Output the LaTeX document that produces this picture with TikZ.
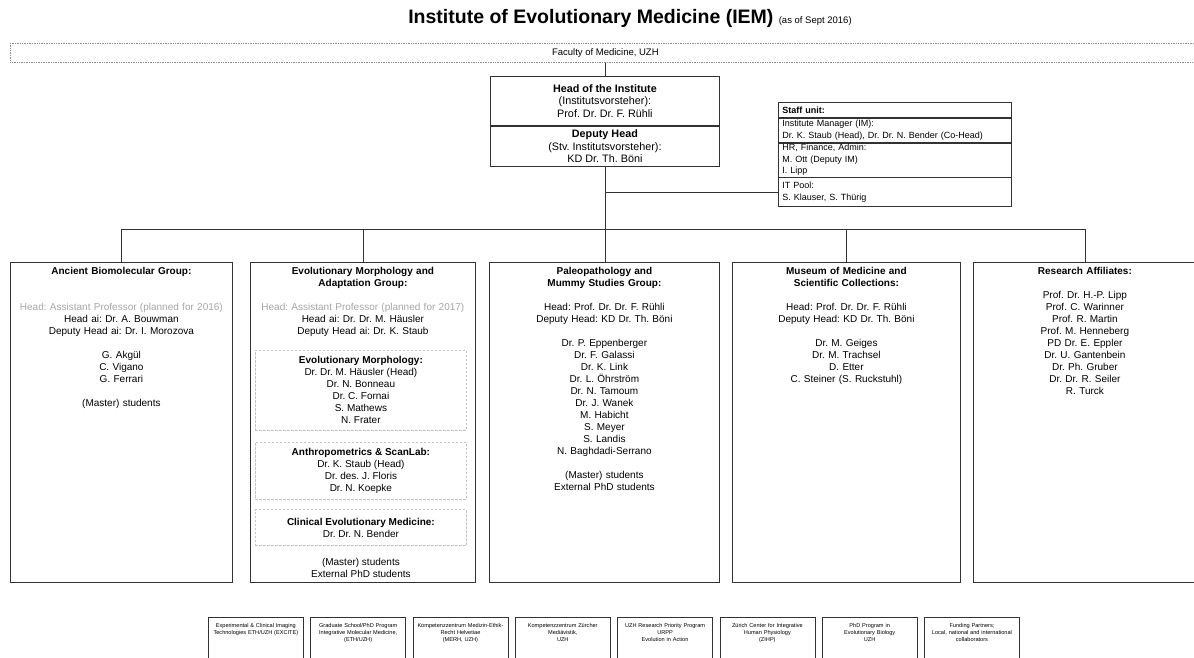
\documentclass[tikz,border=0pt]{standalone}
\usepackage{fontspec}
\setmainfont{Liberation Sans}
\usetikzlibrary{positioning}
\definecolor{boxline}{RGB}{50,50,50}
\definecolor{plangray}{RGB}{165,165,165}
\definecolor{subline}{RGB}{195,195,195}
\frenchspacing

\begin{document}
\begin{tikzpicture}[x=1pt, y=-1pt,
    line/.style={draw=boxline, line width=0.8pt},
    groupbox/.style={draw=boxline, line width=0.8pt, anchor=north west, align=center,
        text width=#1, text height=8pt, text depth=304pt, inner xsep=2pt, inner ysep=4pt,
        font=\fontsize{10}{12}\selectfont},
    subbox/.style={draw=subline, line width=0.7pt, dash pattern=on 2.5pt off 1.5pt, align=center,
        minimum width=211pt, inner sep=0pt, font=\fontsize{10}{12}\selectfont},
    headbox/.style={draw=boxline, line width=0.8pt, align=center, minimum width=229pt,
        inner sep=0pt, font=\fontsize{10.8}{12.6}\selectfont},
    staffbox/.style={draw=boxline, line width=0.8pt, align=left, text width=225pt,
        inner xsep=4pt, inner ysep=0pt, font=\fontsize{9}{11.5}\selectfont},
    partner/.style={draw=boxline, line width=0.7pt, anchor=north west, align=center,
        text width=91pt, text height=5.5pt, text depth=44pt, inner xsep=2pt, inner ysep=4.5pt,
        font=\fontsize{5.6}{7}\selectfont}
]
    \useasboundingbox (0,0) rectangle (1194,657);

    % Title
    \node[font=\fontsize{19.5}{22}\selectfont\bfseries] (title) at (630,18)
        {Institute of Evolutionary Medicine (IEM) {\fontsize{9.5}{10}\selectfont\mdseries(as of Sept 2016)}};

    % Faculty (dotted frame running off the right edge)
    \node[draw=black!45, densely dotted, line width=0.7pt, anchor=north west, minimum width=1190pt,
          minimum height=19pt, inner sep=0pt, font=\fontsize{9.5}{10}\selectfont] (faculty) at (10,43)
        {Faculty of Medicine, UZH};

    % Head and deputy head
    \node[headbox, minimum height=49pt, anchor=north west] (head) at (490,76)
        {\textbf{Head of the Institute}\\(Institutsvorsteher):\\Prof. Dr. Dr. F. Rühli};
    \node[headbox, minimum height=40pt, below=0pt of head] (deputy)
        {\textbf{Deputy Head}\\(Stv. Institutsvorsteher):\\KD Dr. Th. Böni};

    % Staff unit, one row per node
    \node[staffbox, minimum height=15pt, anchor=north west] (staff) at (778,102) {\textbf{Staff unit:}};
    \node[staffbox, minimum height=24pt, below=0pt of staff] (staffim)
        {Institute Manager (IM):\\Dr. K. Staub (Head), Dr. Dr. N. Bender (Co-Head)};
    \node[staffbox, minimum height=34pt, below=0pt of staffim] (staffhr)
        {HR, Finance, Admin:\\M. Ott (Deputy IM)\\I. Lipp};
    \node[staffbox, minimum height=29pt, below=0pt of staffhr] (staffit)
        {IT Pool:\\S. Klauser, S. Thürig};

    % Groups
    \node[groupbox=218pt] (grp1) at (10,262)
        {\textbf{Ancient Biomolecular Group:}\\[24pt]
         {\color{plangray}Head: Assistant Professor (planned for 2016)}\\
         Head ai: Dr. A. Bouwman\\Deputy Head ai: Dr. I. Morozova\\[12pt]
         G. Akgül\\C. Vigano\\G. Ferrari\\[12pt]
         (Master) students};

    \node[groupbox=221pt] (grp2) at (250,262)
        {\textbf{Evolutionary Morphology and}\\\textbf{Adaptation Group:}\\[12pt]
         {\color{plangray}Head: Assistant Professor (planned for 2017)}\\
         Head ai: Dr. Dr. M. Häusler\\Deputy Head ai: Dr. K. Staub};

    \node[groupbox=226pt] (grp3) at (489,262)
        {\textbf{Paleopathology and}\\\textbf{Mummy Studies Group:}\\[12pt]
         Head: Prof. Dr. Dr. F. Rühli\\Deputy Head: KD Dr. Th. Böni\\[12pt]
         Dr. P. Eppenberger\\Dr. F. Galassi\\Dr. K. Link\\Dr. L. Öhrström\\Dr. N. Tamoum\\
         Dr. J. Wanek\\M. Habicht\\S. Meyer\\S. Landis\\N. Baghdadi-Serrano\\[12pt]
         (Master) students\\External PhD students};

    \node[groupbox=224pt] (grp4) at (732,262)
        {\textbf{Museum of Medicine and}\\\textbf{Scientific Collections:}\\[12pt]
         Head: Prof. Dr. Dr. F. Rühli\\Deputy Head: KD Dr. Th. Böni\\[12pt]
         Dr. M. Geiges\\Dr. M. Trachsel\\D. Etter\\C. Steiner (S. Ruckstuhl)};

    \node[groupbox=219pt] (grp5) at (973,262)
        {\textbf{Research Affiliates:}\\[12pt]
         Prof. Dr. H.-P. Lipp\\Prof. C. Warinner\\Prof. R. Martin\\Prof. M. Henneberg\\
         PD Dr. E. Eppler\\Dr. U. Gantenbein\\Dr. Ph. Gruber\\Dr. Dr. R. Seiler\\R. Turck};

    % Sub-groups inside the morphology group
    \node[subbox, minimum height=80pt, anchor=north] (evomorph) at ([xshift=-2pt,yshift=-88pt]grp2.north)
        {\textbf{Evolutionary Morphology:}\\Dr. Dr. M. Häusler (Head)\\Dr. N. Bonneau\\
         Dr. C. Fornai\\S. Mathews\\N. Frater};
    \node[subbox, minimum height=57pt, below=11pt of evomorph] (anthro)
        {\textbf{Anthropometrics \& ScanLab:}\\Dr. K. Staub (Head)\\Dr. des. J. Floris\\Dr. N. Koepke};
    \node[subbox, minimum height=36pt, below=10pt of anthro] (clinical)
        {\textbf{Clinical Evolutionary Medicine:}\\Dr. Dr. N. Bender};
    \node[font=\fontsize{10}{12}\selectfont, align=center, inner sep=0pt, below=12pt of clinical] (grp2foot)
        {(Master) students\\External PhD students};

    % Partner programmes along the bottom
    \node[partner] (partner1) at (208,617) {Experimental \& Clinical Imaging\\Technologies ETH/UZH (EXCITE)};
    \node[partner, right=6.6pt of partner1] (partner2) {Graduate School/PhD Program\\Integrative Molecular Medicine,\\(ETH/UZH)};
    \node[partner, right=6.6pt of partner2] (partner3) {Kompetenzzentrum Medizin-Ethik-\\Recht Helvetiae\\(MERH, UZH)};
    \node[partner, right=6.6pt of partner3] (partner4) {Kompetenzzentrum Zürcher\\Mediävistik,\\UZH};
    \node[partner, right=6.6pt of partner4] (partner5) {UZH Research Priority Program\\URPP\\Evolution in Action};
    \node[partner, right=6.6pt of partner5] (partner6) {Zürich Center for Integrative\\Human Physiology\\(ZIHP)};
    \node[partner, right=6.6pt of partner6] (partner7) {PhD Program in\\Evolutionary Biology\\UZH};
    \node[partner, right=6.6pt of partner7] (partner8) {Funding Partners;\\Local, national and international\\collaborators};

    % Connectors
    \coordinate (bus) at (607,229);
    \draw[line] (faculty.south -| head.north) -- (head.north);
    \draw[line] (deputy.south) -- (deputy.south |- grp3.north);
    \draw[line] (deputy.south |- staffit.west) -- (staffit.west);
    \draw[line] (grp1.north) -- (grp1.north |- bus) -- (grp5.north |- bus) -- (grp5.north);
    \draw[line] (grp2.north) -- (grp2.north |- bus);
    \draw[line] (grp4.north) -- (grp4.north |- bus);

\end{tikzpicture}
\end{document}
